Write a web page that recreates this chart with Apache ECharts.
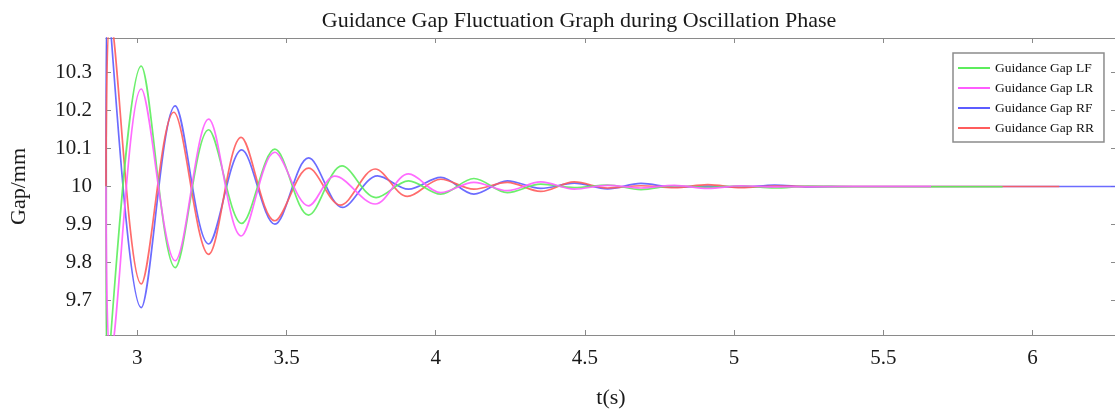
<!DOCTYPE html>
<html>
<head>
<meta charset="utf-8">
<script src="https://cdn.jsdelivr.net/npm/echarts@6/dist/echarts.min.js"></script>
<style>
html,body{margin:0;padding:0;background:#fff;}
#chart{width:1115px;height:410px;}
</style>
</head>
<body>
<div id="chart"></div>
<script>
// ---- data (start point, then peaks/troughs) ----
var seriesNames = ['Guidance Gap LF', 'Guidance Gap LR', 'Guidance Gap RF', 'Guidance Gap RR'];

var timeLF = [2.895, 2.899, 3.013, 3.127, 3.239, 3.350, 3.461, 3.574, 3.686, 3.800, 3.909, 4.017, 4.128, 4.240, 4.352, 4.464, 4.576, 4.688, 4.800, 4.912, 5.024, 5.136, 5.248, 5.400, 5.900];
var gapLF  = [10, 9.50, 10.316, 9.787, 10.149, 9.903, 10.098, 9.925, 10.054, 9.971, 10.015, 9.980, 10.021, 9.984, 10.006, 9.997, 10.004, 9.992, 10.002, 9.998, 10.002, 9.996, 10.001, 9.9993, 9.9993];

var timeLR = [2.895, 2.910, 3.013, 3.127, 3.239, 3.348, 3.461, 3.574, 3.662, 3.797, 3.909, 4.017, 4.128, 4.240, 4.352, 4.464, 4.576, 4.688, 4.800, 4.912, 5.024, 5.136, 5.300, 5.660];
var gapLR  = [10, 9.56, 10.256, 9.805, 10.177, 9.870, 10.090, 9.949, 10.027, 9.954, 10.033, 9.984, 10.011, 9.989, 10.012, 9.993, 10.003, 9.996, 10.003, 9.995, 10.002, 9.999, 10, 10];

var timeRF = [2.895, 2.900, 3.013, 3.127, 3.239, 3.350, 3.461, 3.574, 3.688, 3.805, 3.909, 4.017, 4.128, 4.240, 4.352, 4.464, 4.576, 4.688, 4.800, 4.912, 5.024, 5.136, 5.248, 5.400, 6.280];
var gapRF  = [10, 10.50, 9.682, 10.212, 9.849, 10.096, 9.901, 10.075, 9.945, 10.028, 9.993, 10.024, 9.980, 10.015, 9.995, 10.009, 9.994, 10.008, 9.998, 10.001, 9.998, 10.004, 9.999, 10, 10];

var timeRR = [2.895, 2.909, 3.013, 3.122, 3.239, 3.348, 3.461, 3.574, 3.680, 3.797, 3.905, 4.017, 4.128, 4.240, 4.352, 4.464, 4.576, 4.688, 4.800, 4.912, 5.024, 5.136, 5.300, 6.090];
var gapRR  = [10, 10.44, 9.744, 10.195, 9.822, 10.129, 9.910, 10.048, 9.951, 10.046, 9.974, 10.019, 9.993, 10.011, 9.987, 10.012, 9.996, 10.002, 9.997, 10.005, 9.997, 10.001, 10, 10];

var xMin = 2.895, xMax = 6.28;
var yMin = 9.61, yMax = 10.39;
var colors = { LF: '#5ced5c', LR: '#ff5cff', RF: '#5c5cff', RR: '#ff5c5c' };

function pairs(t, v) { return t.map(function (x, i) { return [x, v[i]]; }); }

var FONT = "'Liberation Serif','Times New Roman',serif";
var axisGray = '#8a8a8a';
var textColor = '#1a1a1a';

function mkSeries(name, t, v, color) {
  return {
    name: name, type: 'line', data: pairs(t, v),
    smooth: 0.34, symbol: 'none', clip: true,
    lineStyle: { color: color, width: 1.7, opacity: 0.9 },
    itemStyle: { color: color }
  };
}

var chart = echarts.init(document.getElementById('chart'), null, { renderer: 'canvas' });
chart.setOption({
  backgroundColor: '#fff',
  animation: false,
  title: {
    text: 'Guidance Gap Fluctuation Graph during Oscillation Phase',
    left: 574, top: 5, textAlign: 'center',
    textStyle: { fontFamily: FONT, fontSize: 22, fontWeight: 'normal', color: textColor }
  },
  legend: {
    orient: 'vertical', left: 953, top: 53,
    data: seriesNames, icon: 'rect',
    backgroundColor: '#fff', borderColor: '#8c8c8c', borderWidth: 1.5,
    padding: [8, 10, 7, 5],
    itemWidth: 32, itemHeight: 2, itemGap: 6,
    textStyle: { fontFamily: FONT, fontSize: 13.5, color: '#111' }
  },
  grid: { left: 106, top: 38, width: 1010, height: 297, containLabel: false, outerBoundsMode: 'none' },
  xAxis: [{
    type: 'value', min: xMin, max: xMax, splitNumber: 5, position: 'bottom',
    name: 't(s)', nameLocation: 'middle', nameGap: 52,
    nameTextStyle: { fontFamily: FONT, fontSize: 22, color: textColor },
    axisLine: { lineStyle: { color: axisGray, width: 1.2 } },
    axisTick: { inside: true, length: 5, lineStyle: { color: axisGray } },
    axisLabel: { fontFamily: FONT, fontSize: 21, color: textColor, margin: 13, showMinLabel: false, showMaxLabel: false },
    splitLine: { show: false }
  }, {
    type: 'value', min: xMin, max: xMax, splitNumber: 5, position: 'top',
    axisLine: { lineStyle: { color: axisGray, width: 1.2 } },
    axisTick: { inside: true, length: 5, lineStyle: { color: axisGray } },
    axisLabel: { show: false }, splitLine: { show: false }
  }],
  yAxis: [{
    type: 'value', min: yMin, max: yMax, splitNumber: 8, position: 'left',
    name: 'Gap/mm', nameLocation: 'middle', nameGap: 76, nameRotate: 90,
    nameTextStyle: { fontFamily: FONT, fontSize: 22, color: textColor },
    axisLine: { lineStyle: { color: axisGray, width: 1.2 } },
    axisTick: { inside: true, length: 5, lineStyle: { color: axisGray } },
    axisLabel: { fontFamily: FONT, fontSize: 21, color: textColor, margin: 14, showMinLabel: false, showMaxLabel: false },
    splitLine: { show: false }
  }, {
    type: 'value', min: yMin, max: yMax, splitNumber: 8, position: 'right',
    axisLine: { lineStyle: { color: axisGray, width: 1.2 } },
    axisTick: { inside: true, length: 5, lineStyle: { color: axisGray } },
    axisLabel: { show: false }, splitLine: { show: false }
  }],
  series: [
    mkSeries(seriesNames[2], timeRF, gapRF, colors.RF),
    mkSeries(seriesNames[3], timeRR, gapRR, colors.RR),
    mkSeries(seriesNames[0], timeLF, gapLF, colors.LF),
    mkSeries(seriesNames[1], timeLR, gapLR, colors.LR)
  ]
});
</script>
</body>
</html>
